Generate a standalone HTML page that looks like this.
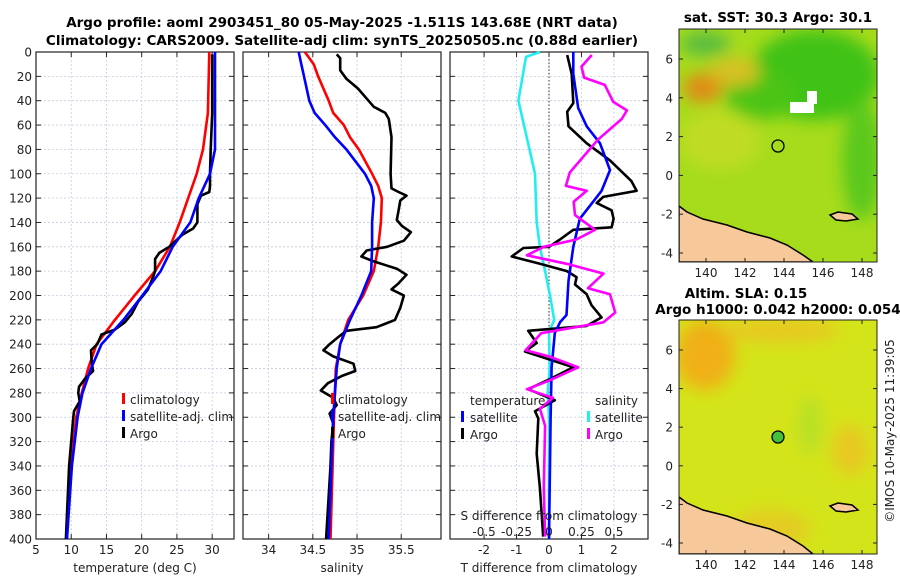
<!DOCTYPE html>
<html><head><meta charset="utf-8"><style>
body{margin:0;background:#fff;}
svg text{font-family:"DejaVu Sans","Liberation Sans",sans-serif;fill:#222;}
.t{font-weight:bold;font-size:13.5px;fill:#000;}
.tk{font-size:12px;}
</style></head><body>
<svg id="c" width="900" height="580" viewBox="0 0 900 580" xmlns="http://www.w3.org/2000/svg">
<defs>
<filter id="bl" x="-50%" y="-50%" width="200%" height="200%"><feGaussianBlur stdDeviation="8"/></filter>
<clipPath id="m1c"><rect x="679" y="29" width="198" height="233"/></clipPath>
<clipPath id="m2c"><rect x="679" y="320" width="198" height="234"/></clipPath>
</defs>
<text class="t" x="342" y="27" text-anchor="middle">Argo profile: aoml 2903451_80 05-May-2025 -1.511S 143.68E (NRT data)</text>
<text class="t" x="342" y="45" text-anchor="middle">Climatology: CARS2009. Satellite-adj clim: synTS_20250505.nc (0.88d earlier)</text>

<!-- SST map -->
<g>
<g clip-path="url(#m1c)">
<rect x="679" y="29" width="198" height="233" fill="#a6dc1c"/>
<g filter="url(#bl)">
<ellipse cx="815" cy="75" rx="65" ry="45" fill="#3fc214"/>
<ellipse cx="760" cy="95" rx="35" ry="25" fill="#4cc418"/>
<ellipse cx="862" cy="160" rx="20" ry="60" fill="#5cc81a"/>
<ellipse cx="703" cy="88" rx="20" ry="15" fill="#e08a18"/>
<ellipse cx="735" cy="72" rx="25" ry="14" fill="#d8c020"/>
<ellipse cx="705" cy="44" rx="25" ry="12" fill="#58bc40"/>
<ellipse cx="720" cy="140" rx="40" ry="30" fill="#c0dc20"/>
</g>
<rect x="790" y="102" width="24" height="11" fill="#fff"/>
<rect x="807" y="91" width="10" height="13" fill="#fff"/>
<polygon points="679,206 687,212 703,219 727,225 747,232 770,238 787,245 803,255 813,262 679,262" fill="#f6c89a" stroke="#000" stroke-width="1.5"/>
<path d="M830,215 L838,212 L852,214 L858,219 L846,221 L836,220 Z" fill="#f6c89a" stroke="#000" stroke-width="1.5"/>
</g>
<rect x="679" y="29" width="198" height="233" fill="none" stroke="#222" stroke-width="1"/>
<circle cx="778" cy="146" r="6" fill="none" stroke="#000" stroke-width="1.3"/>
</g>
<text class="t" x="778" y="22" text-anchor="middle">sat. SST: 30.3 Argo: 30.1</text>

<!-- SLA map -->
<g>
<g clip-path="url(#m2c)">
<rect x="679" y="320" width="198" height="234" fill="#d4e41a"/>
<g filter="url(#bl)">
<ellipse cx="705" cy="355" rx="30" ry="35" fill="#f0b018"/>
<ellipse cx="780" cy="330" rx="60" ry="12" fill="#e8c820"/>
<ellipse cx="850" cy="450" rx="18" ry="25" fill="#e8c820"/>
<ellipse cx="810" cy="425" rx="12" ry="30" fill="#b8e028"/>
<ellipse cx="770" cy="530" rx="40" ry="20" fill="#e4cc20"/>
</g>
<g transform="translate(0,291)">
<polygon points="679,206 687,212 703,219 727,225 747,232 770,238 787,245 803,255 813,263 679,263" fill="#f6c89a" stroke="#000" stroke-width="1.5"/>
<path d="M830,215 L838,212 L852,214 L858,219 L846,221 L836,220 Z" fill="#f6c89a" stroke="#000" stroke-width="1.5"/>
</g>
</g>
<rect x="679" y="320" width="198" height="234" fill="none" stroke="#222" stroke-width="1"/>
<circle cx="778" cy="437" r="6" fill="#44c03a" stroke="#000" stroke-width="1.3"/>
</g>
<text class="t" x="746" y="298" text-anchor="middle">Altim. SLA: 0.15</text>
<text class="t" x="778" y="314" text-anchor="middle">Argo h1000: 0.042 h2000: 0.054</text>
<text class="tk" transform="translate(894,431) rotate(-90)" text-anchor="middle" font-size="12.5">©IMOS 10-May-2025 11:39:05</text>
<g id="g"></g>
</svg>
<script>
// depth grid (m)
const depthTicks=[0,20,40,60,80,100,120,140,160,180,200,220,240,260,280,300,320,340,360,380,400];
// temperature profiles
const tClimD=[0,50,80,100,120,140,160,180,200,220,240,260,280,300,340,400];
const tClimV=[29.6,29.4,28.7,27.8,26.6,25.4,24.0,21.9,19.0,16.2,13.6,12.4,11.5,10.7,10.0,9.35];
const tSatD=[0,50,80,100,120,140,160,180,200,220,240,260,280,300,340,400];
const tSatV=[30.4,30.4,30.4,29.7,28.1,26.9,24.4,22.7,20.1,17.4,14.3,12.8,11.6,10.9,10.1,9.4];
const tArgoD=[2,50,80,100,110,115,118,125,140,145,150,160,165,170,180,185,195,200,205,215,222,228,232,240,245,255,262,268,275,280,287,295,300,320,340,400];
const tArgoV=[30.0,30.0,29.8,29.7,29.7,29.6,28.4,27.9,27.9,27.3,25.8,23.9,22.5,21.9,21.9,21.6,20.9,20.2,19.5,18.6,17.6,16.2,14.3,13.7,12.8,12.9,13.1,12.0,11.1,11.0,11.2,10.4,10.3,10.0,9.7,9.25];
// salinity profiles
const sClimD=[0,10,20,40,50,60,70,80,100,110,120,140,160,180,200,220,240,260,300,400];
const sClimV=[34.41,34.51,34.56,34.68,34.73,34.85,34.92,35.02,35.17,35.24,35.28,35.27,35.24,35.19,35.07,34.90,34.81,34.76,34.74,34.70];
const sSatD=[0,10,20,40,50,60,70,80,100,110,120,140,160,180,200,220,240,260,300,400];
const sSatV=[34.34,34.37,34.40,34.46,34.52,34.64,34.75,34.88,35.09,35.16,35.19,35.17,35.17,35.16,35.05,34.92,34.81,34.77,34.73,34.68];
const sArgoD=[2,5,15,22,30,40,45,50,55,70,100,112,115,118,122,130,138,143,148,155,160,163,168,172,178,183,190,195,200,210,220,226,229,234,240,245,250,256,262,266,272,278,284,290,297,305,320,340,400];
const sArgoV=[34.77,34.81,34.81,34.88,35.01,35.13,35.19,35.32,35.36,35.39,35.38,35.39,35.47,35.56,35.49,35.47,35.45,35.51,35.61,35.53,35.34,35.11,35.05,35.19,35.45,35.56,35.47,35.39,35.53,35.49,35.43,35.22,34.88,34.79,34.69,34.62,34.73,34.96,34.98,34.83,34.67,34.59,34.73,34.77,34.69,34.73,34.71,34.70,34.65];
// differences from climatology
const dTSatD=[0,18,46,61,75,97,114,137,160,188,216,222,231,259,301,400];
const dTSatV=[0.75,0.75,0.9,1.16,1.57,1.88,1.62,0.95,0.75,0.6,0.54,0.34,0.18,0.08,0.05,0.0];
const dTArgoD=[2.5,18,42,49,61,75,89,106,114,119,124,130,137,144,146,154,160,161,168,174,180,185,191,199,208,218,225,229,239,246,259,269,277,286,295,301,330,358,398];
const dTArgoV=[0.56,0.7,0.75,0.56,0.6,1.16,1.88,2.54,2.7,1.67,1.47,1.93,1.99,1.93,0.75,0.34,0.0,-0.79,-1.15,-0.28,0.55,0.85,0.8,1.16,1.31,1.62,1.16,-0.64,-0.38,-0.74,0.75,0.0,-0.64,0.18,-0.43,-0.33,-0.38,-0.28,-0.18];
const dSSatD=[0,4,40,80,100,140,160,180,200,220,230,260,280,300,400];
const dSSatV=[-0.069,-0.177,-0.236,-0.15,-0.108,-0.095,-0.07,-0.03,0.008,0.04,0.0,0.005,-0.01,0.0,0.0];
const dSArgoD=[2.5,12,21,27,41,48,55,72,89,99,110,114,123,134,146,154,160,167,174,182,194,199,214,222,231,245,250,259,270,277,284,293,307,358,398];
const dSArgoV=[0.33,0.25,0.27,0.43,0.495,0.6,0.56,0.377,0.24,0.16,0.13,0.29,0.19,0.2,0.354,0.21,-0.04,-0.17,0.136,0.42,0.3,0.47,0.51,0.42,-0.06,-0.18,0.0,0.225,0.0,-0.17,0.03,-0.07,-0.03,-0.04,-0.03];
const tTicks=[5,10,15,20,25,30];
const sTicks=[34,34.5,35,35.5];
const dTicks=[-2,-1,0,1,2];
const dsTicks=[-0.5,-0.25,0,0.25,0.5];
const dsTickLabels=["-0.5","-0.25","0","0.25","0.5"];
const lonTicks=[140,142,144,146,148];
const latTicks=[6,4,2,0,-2,-4];

const NS="http://www.w3.org/2000/svg";
const G=document.getElementById('g');
function el(tag,at,parent){const e=document.createElementNS(NS,tag);for(const k in at)e.setAttribute(k,at[k]);(parent||G).appendChild(e);return e;}
const Y0=52,Y1=539;
const yD=d=>Y0+d*(Y1-Y0)/400;
function panel(name,x0,x1,lo,hi,ticks,labels,title){
  const sx=v=>x0+(v-lo)/(hi-lo)*(x1-x0);
  const g=el('g',{});
  
  
  depthTicks.forEach(d=>{
    el('line',{x1:x0,x2:x1,y1:yD(d),y2:yD(d),stroke:'#c4cce4','stroke-width':0.8,'stroke-dasharray':'2,2'},g);
    el('line',{x1:x0,x2:x0+5,y1:yD(d),y2:yD(d),stroke:'#222'},g);
    el('line',{x1:x1-5,x2:x1,y1:yD(d),y2:yD(d),stroke:'#222'},g);
  });
  ticks.forEach((v,i)=>{
    const x=sx(v);
    el('line',{x1:x,x2:x,y1:Y0,y2:Y1,stroke:'#c4cce4','stroke-width':0.8,'stroke-dasharray':'2,2'},g);
    el('line',{x1:x,x2:x,y1:Y1-5,y2:Y1,stroke:'#222'},g);
    el('line',{x1:x,x2:x,y1:Y0,y2:Y0+5,stroke:'#222'},g);
    const t=el('text',{x:x,y:554,'text-anchor':'middle',class:'tk'},g);
    t.textContent=labels?labels[i]:String(v);
    
    
  });
  el('rect',{x:x0,y:Y0,width:x1-x0,height:Y1-Y0,fill:'none',stroke:'#222','stroke-width':1.2},g);
  const tt=el('text',{x:(x0+x1)/2,y:572,'text-anchor':'middle',class:'tk','font-size':'13'},g);
  tt.textContent=title;
  
  
  return sx;
}
function line(sx,D,V,color,name,w){
  const p=D.map((d,i)=>sx(V[i]).toFixed(1)+','+yD(d).toFixed(1)).join(' ');
  const e=el('polyline',{points:p,fill:'none',stroke:color,'stroke-width':w||2.6,'stroke-linejoin':'round'});
  
  
}
function txt(x,y,s,name,anchor,size){
  const t=el('text',{x:x,y:y,'text-anchor':anchor||'start',class:'tk','font-size':size||13});
  t.textContent=s;
  
  
}
function mark(x,y,c,name){
  const r=el('rect',{x:x,y:y-10,width:3,height:11,fill:c});
  
  
}
// y labels
depthTicks.forEach(d=>txt(32,yD(d)+4.5,String(d),'y-tick-label','end',12.5));
// panel 1
const sxT=panel('temperature-panel',36,234,5,33.1,tTicks,null,'temperature (deg C)');
line(sxT,tClimD,tClimV,'#f00','temp-climatology-line');
line(sxT,tArgoD,tArgoV,'#000','temp-argo-line');
line(sxT,tSatD,tSatV,'#00f','temp-satellite-line');
mark(122,403,'#f00','legend-climatology-marker');txt(130,404,'climatology','legend-climatology');
mark(122,420,'#00f','legend-satellite-marker');txt(130,421,'satellite-adj. clim','legend-satellite');
mark(122,437,'#000','legend-argo-marker');txt(130,438,'Argo','legend-argo');
// panel 2
const sxS=panel('salinity-panel',243,441,33.71,35.95,sTicks,null,'salinity');
line(sxS,sClimD,sClimV,'#f00','sal-climatology-line');
line(sxS,sArgoD,sArgoV,'#000','sal-argo-line');
line(sxS,sSatD,sSatV,'#00f','sal-satellite-line');
mark(331,403,'#f00','legend2-climatology-marker');txt(338,404,'climatology','legend2-climatology');
mark(331,420,'#00f','legend2-satellite-marker');txt(338,421,'satellite-adj. clim','legend2-satellite');
mark(331,437,'#000','legend2-argo-marker');txt(338,438,'Argo','legend2-argo');
// panel 3
const sxD=panel('difference-panel',450,648,-3.05,3.05,dTicks,null,'T difference from climatology');
const sxDS=v=>sxD(v*4);
el('line',{x1:sxD(0),x2:sxD(0),y1:Y0,y2:Y1,stroke:'#333','stroke-width':1,'stroke-dasharray':'1.5,2'});
line(sxDS,dSSatD,dSSatV,'#22eef0','sdiff-satellite-line');
line(sxD,dTArgoD,dTArgoV,'#000','tdiff-argo-line');
line(sxD,dTSatD,dTSatV,'#00f','tdiff-satellite-line');
line(sxDS,dSArgoD,dSArgoV,'#f0f','sdiff-argo-line');
txt(470,405,'temperature','legend3-temperature-header');
txt(595,405,'salinity','legend3-salinity-header');
mark(461,421,'#00f','legend3-tsat-marker');txt(470,422,'satellite','legend3-tsat');
mark(461,438,'#000','legend3-targo-marker');txt(470,439,'Argo','legend3-targo');
mark(587,421,'#22eef0','legend3-ssat-marker');txt(595,422,'satellite','legend3-ssat');
mark(587,438,'#f0f','legend3-sargo-marker');txt(595,439,'Argo','legend3-sargo');
txt(549,520,'S difference from climatology','s-diff-axis-title','middle',13);
dsTicks.forEach((v,i)=>txt(sxDS(v),536,dsTickLabels[i],'s-diff-tick-label','middle',12));
// map ticks
const lonX=lon=>706+(lon-140)*19.5;
function mapAxes(name,top,bottom,lat6y,perDeg){
  lonTicks.forEach(l=>{
    el('line',{x1:lonX(l),x2:lonX(l),y1:bottom-4,y2:bottom,stroke:'#222'});
    el('line',{x1:lonX(l),x2:lonX(l),y1:top,y2:top+4,stroke:'#222'});
    txt(lonX(l),bottom+15,String(l),name+'-lon-tick-label','middle',12.5);
  });
  latTicks.forEach(la=>{
    const y=lat6y+(6-la)*perDeg;
    el('line',{x1:679,x2:683,y1:y,y2:y,stroke:'#222'});
    el('line',{x1:873,x2:877,y1:y,y2:y,stroke:'#222'});
    txt(673,y+4.5,String(la),name+'-lat-tick-label','end',12.5);
  });
}
mapAxes('sst-map',29,262,59,19.4);
mapAxes('sla-map',320,554,350,19.3);
</script>
</body></html>
